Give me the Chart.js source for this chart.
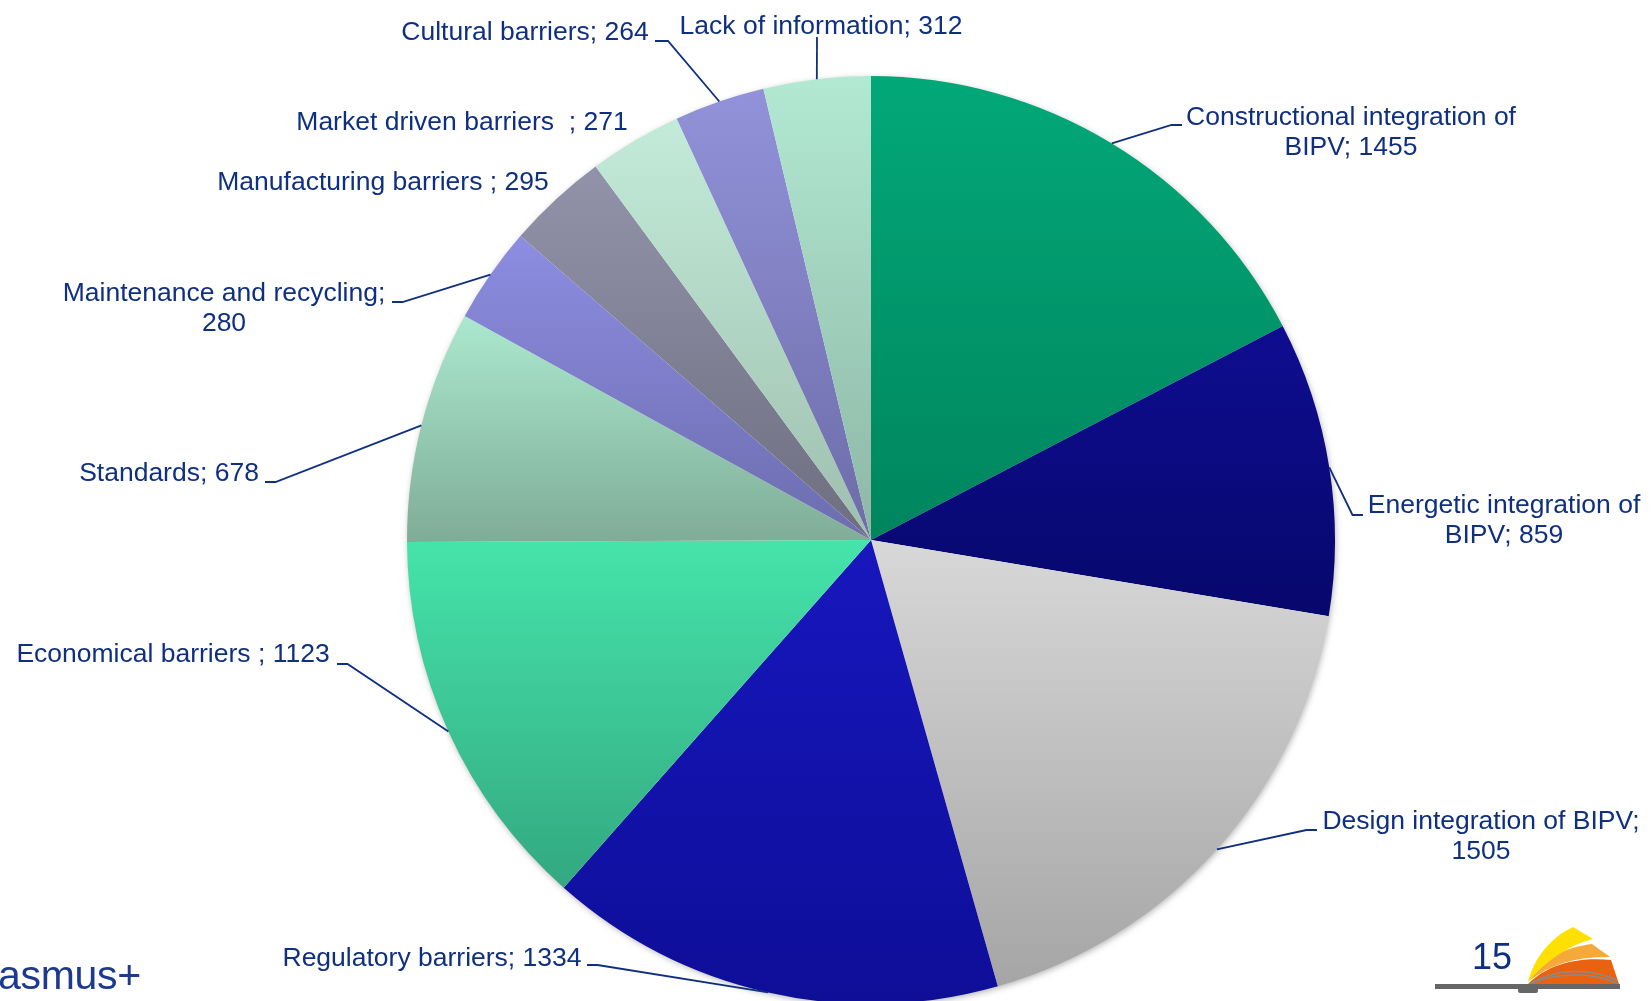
<!DOCTYPE html>
<html>
<head>
<meta charset="utf-8">
<title>BIPV barriers</title>
<script src="https://cdn.jsdelivr.net/npm/chart.js@4.4.1/dist/chart.umd.min.js"></script>
<style>
  html, body { margin: 0; padding: 0; background: #fff; overflow: hidden; width: 1652px; height: 1001px; }
  #wrap { position: absolute; left: 0; top: 0; width: 1652px; height: 1080px; }
  #erasmus { position: absolute; left: -2px; top: 952px; font: 41px "Liberation Sans", Arial, sans-serif; color: #1D3A8F; letter-spacing: -0.3px; }
  #page { position: absolute; left: 1472px; top: 936px; font: 36px "Liberation Sans", Arial, sans-serif; color: #0F2F80; }
  #logo { position: absolute; left: 0; top: 0; }
</style>
</head>
<body>
<div id="wrap"><canvas id="pieChart"></canvas></div>
<div id="erasmus">asmus+</div>
<div id="page">15</div>
<svg id="logo" width="1652" height="1001">
  <path d="M1528,984 C1548,964 1578,957 1611,960 L1619,984 Z" fill="#E8620F"/>
  <path d="M1529,981 C1540,960 1562,948 1592,944 L1610,957 C1578,956 1550,964 1529,981 Z" fill="#F5A93A"/>
  <path d="M1528,982 C1534,958 1550,938 1573,927 L1593,939 C1566,946 1545,962 1528,982 Z" fill="#FFE000"/>
  <path d="M1530,984 C1555,968 1590,968 1617,980" fill="none" stroke="#8a8a8a" stroke-width="1.5"/>
  <path d="M1530,984 C1555,972 1590,972 1617,983" fill="none" stroke="#8a8a8a" stroke-width="1.5"/>
  <rect x="1435" y="984" width="185" height="5" fill="#666"/>
  <rect x="1518" y="987" width="20" height="6" rx="2" fill="#666"/>
</svg>
<script>
// data
const categories = ['Constructional integration of BIPV', 'Energetic integration of BIPV', 'Design integration of BIPV',
    'Regulatory barriers', 'Economical barriers ', 'Standards', 'Maintenance and recycling',
    'Manufacturing barriers ', 'Market driven barriers  ', 'Cultural barriers', 'Lack of information'];
const values = [1455, 859, 1505, 1334, 1123, 678, 280, 295, 271, 264, 312];

// slice colours (gradient top -> bottom)
const topColors = ['#02A878', '#0F0D90', '#D8D8D8', '#1717BE', '#45E4AB', '#ABE8CF', '#8D8DE2', '#9292AA', '#C3EBD9', '#9292DA', '#B2E9D3'];
const bottomColors = ['#00855D', '#07076C', '#A5A5A5', '#0E0E98', '#33A880', '#7FAC97', '#6C6CAE', '#6E6E80', '#9EBEAE', '#6C6CA8', '#8EB6A6'];

// label layout
const labelX = [1351, 1504, 1481, 432, 173, 169, 224, 383, 462, 525, 821];
const labelY = [118, 506, 822, 959, 655, 474, 294, 183, 123, 33, 27];
const labelWrap = [345, 300, 340, 0, 0, 0, 340, 0, 0, 0, 0];
const leaderX = [1182, 1363, 1317, 587, 337, 265, 392, null, null, 655, 817];
const leaderY = [125, 515, 830, 965, 664, 482, 302, null, null, 41, 37];
const leaderDir = [-1, -1, -1, 1, 1, 1, 1, 0, 0, 1, 0];

const textColor = '#0F2F80';
const labelFont = '26.5px "Liberation Sans", Arial, sans-serif';

function sliceGradient(context) {
    var chart = context.chart;
    var i = context.dataIndex;
    var area = chart.chartArea;
    if (!area) return topColors[i];
    var cx = (area.left + area.right) / 2;
    var cy = (area.top + area.bottom) / 2;
    var r = Math.min(area.right - area.left, area.bottom - area.top) / 2;
    var total = values.reduce(function(a, b) { return a + b; }, 0);
    var before = 0;
    for (var k = 0; k < i; k++) before += values[k];
    var a0 = before / total * 2 * Math.PI;
    var a1 = (before + values[i]) / total * 2 * Math.PI;
    var ys = [cy, cy - r * Math.cos(a0), cy - r * Math.cos(a1)];
    if (a0 <= 0 + 1e-9) ys.push(cy - r);
    if (a0 <= Math.PI && a1 >= Math.PI) ys.push(cy + r);
    var y0 = Math.min.apply(null, ys), y1 = Math.max.apply(null, ys);
    var g = chart.ctx.createLinearGradient(0, y0, 0, y1 + 1);
    g.addColorStop(0, topColors[i]);
    g.addColorStop(1, bottomColors[i]);
    return g;
}

function wrapText(ctx, text, maxWidth) {
    if (!maxWidth) return [text];
    var words = text.split(' ');
    var lines = [];
    var line = '';
    words.forEach(function(w) {
        var test = line ? line + ' ' + w : w;
        if (line && ctx.measureText(test).width > maxWidth) {
            lines.push(line);
            line = w;
        } else {
            line = test;
        }
    });
    if (line) lines.push(line);
    return lines;
}

const pieShadow = {
    id: 'pieShadow',
    beforeDatasetsDraw: function(chart) {
        var arc = chart.getDatasetMeta(0).data[0];
        if (!arc) return;
        var ctx = chart.ctx;
        ctx.save();
        ctx.shadowColor = 'rgba(0,0,0,0.35)';
        ctx.shadowBlur = 7;
        ctx.shadowOffsetX = 1;
        ctx.shadowOffsetY = 2;
        ctx.fillStyle = '#ffffff';
        ctx.beginPath();
        ctx.arc(arc.x, arc.y, arc.outerRadius - 1, 0, 2 * Math.PI);
        ctx.fill();
        ctx.restore();
    }
};

const sliceLabels = {
    id: 'sliceLabels',
    afterDatasetsDraw: function(chart) {
        var ctx = chart.ctx;
        var arcs = chart.getDatasetMeta(0).data;
        ctx.save();
        ctx.font = labelFont;
        ctx.fillStyle = textColor;
        ctx.strokeStyle = textColor;
        ctx.lineWidth = 1.8;
        ctx.textAlign = 'center';
        ctx.textBaseline = 'middle';
        arcs.forEach(function(arc, i) {
            var text = categories[i] + '; ' + values[i];
            var lines = wrapText(ctx, text, labelWrap[i]);
            lines.forEach(function(l, j) {
                ctx.fillText(l, labelX[i], labelY[i] + j * 29.5);
            });
            if (leaderX[i] === null) return;
            var mid = (arc.startAngle + arc.endAngle) / 2;
            var ex = arc.x + arc.outerRadius * Math.cos(mid);
            var ey = arc.y + arc.outerRadius * Math.sin(mid);
            var elbow = leaderDir[i] === 0 ? 0 : (i === 9 ? 13 : 10.5);
            ctx.beginPath();
            ctx.moveTo(leaderX[i], leaderY[i]);
            ctx.lineTo(leaderX[i] + leaderDir[i] * elbow, leaderY[i]);
            ctx.lineTo(ex, ey);
            ctx.stroke();
        });
        ctx.restore();
    }
};

new Chart(document.getElementById('pieChart').getContext('2d'), {
    type: 'pie',
    data: {
        labels: categories,
        datasets: [{
            data: values,
            backgroundColor: sliceGradient,
            borderWidth: 0,
            hoverOffset: 0,
            hoverBorderWidth: 0
        }]
    },
    options: {
        responsive: true,
        maintainAspectRatio: false,
        animation: false,
        events: [],
        layout: { padding: { top: 76, bottom: 76, left: 100, right: 10 } },
        plugins: {
            legend: { display: false },
            tooltip: { enabled: false }
        }
    },
    plugins: [pieShadow, sliceLabels]
});
</script>
</body>
</html>
